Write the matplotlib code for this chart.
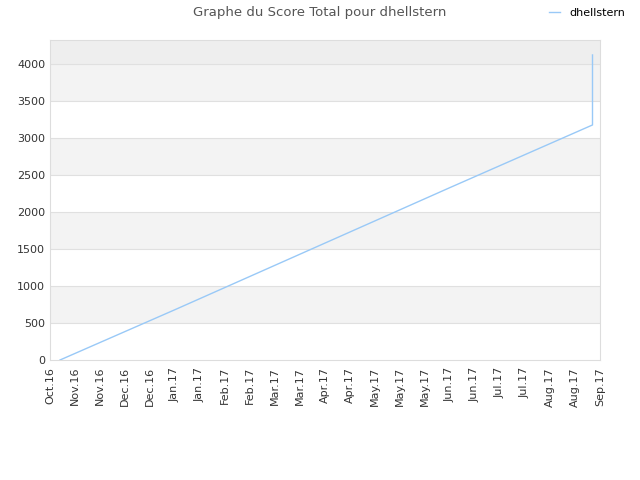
import matplotlib
matplotlib.use('Agg')
from matplotlib import pyplot as plt

# tick labels along x (evenly spaced)
tick_labels = ['Oct.16', 'Nov.16', 'Nov.16', 'Dec.16', 'Dec.16', 'Jan.17', 'Jan.17',
               'Feb.17', 'Feb.17', 'Mar.17', 'Mar.17', 'Apr.17', 'Apr.17', 'May.17',
               'May.17', 'May.17', 'Jun.17', 'Jun.17', 'Jul.17', 'Jul.17', 'Aug.17',
               'Aug.17', 'Sep.17']

# score (x in tick-slot units)
x_pos = [0.4, 5.0, 11.0, 16.0, 21.7, 21.7]
score = [0, 680, 1580, 2330, 3176, 4122]

fig = plt.figure(figsize=(6.4, 4.8), dpi=100)
ax = fig.add_axes([50 / 640, 120 / 480, 550 / 640, 320 / 480])

ymax = 4324
# alternating background bands
for i, lo in enumerate(range(0, 4000, 500)):
    if i % 2 == 1:
        ax.axhspan(lo, lo + 500, color='#f3f3f3', zorder=0, lw=0)
ax.axhspan(4000, ymax, color='#eeeeee', zorder=0, lw=0)
for y in range(500, 4001, 500):
    ax.axhline(y, color='#e0e0e0', lw=0.8, zorder=1)

ax.plot(x_pos, score, color='#99c9f7', lw=1, label='dhellstern', zorder=3)

ax.set_xlim(0, len(tick_labels) - 1)
ax.set_ylim(0, ymax)
ax.set_xticks(range(len(tick_labels)))
ax.set_xticklabels(tick_labels, rotation=90, fontsize=8, color='#333333')
ax.set_yticks(range(0, 4001, 500))
ax.tick_params(axis='y', labelsize=8, labelcolor='#333333', length=0)
ax.tick_params(axis='x', length=0, pad=5)
for s in ax.spines.values():
    s.set_color('#dddddd')

fig.suptitle('Graphe du Score Total pour dhellstern', x=0.5, y=0.988, fontsize=9.5, color='#555555')
fig.legend(loc='upper right', bbox_to_anchor=(0.992, 1.005), frameon=False, fontsize=8,
           handlelength=1.0)

fig.savefig('out.png', dpi=100)
